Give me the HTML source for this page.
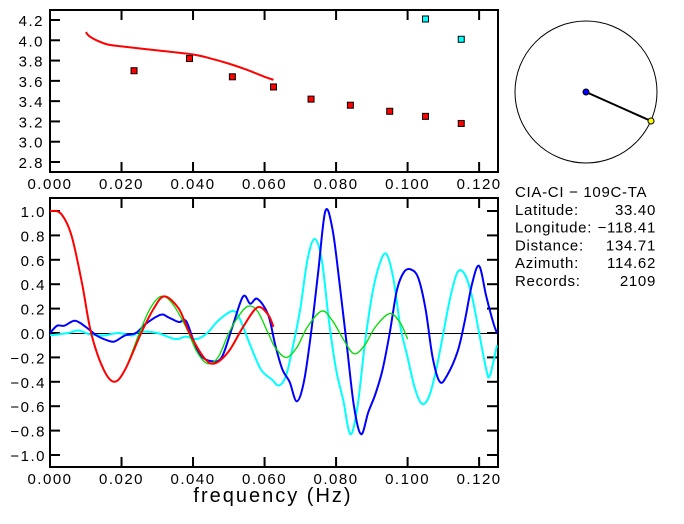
<!DOCTYPE html>
<html><head><meta charset="utf-8"><style>
body{margin:0;background:#fff;width:684px;height:519px;overflow:hidden}
svg text{font-family:"Liberation Sans",sans-serif;fill:#000}
</style></head><body>
<svg id="c" width="684" height="519"></svg>
<script>
const topFreq=[0.0235,0.039,0.051,0.0625,0.073,0.084,0.095,0.105,0.115];
const topVel=[3.70,3.82,3.64,3.54,3.42,3.36,3.30,3.25,3.18];
const cyanFreq=[0.105,0.115];
const cyanVel=[4.21,4.01];
const modelFreq=[0.010,0.011,0.013,0.016,0.020,0.030,0.040,0.045,0.050,0.055,0.060,0.0625];
const modelVel=[4.08,4.04,4.0,3.96,3.94,3.90,3.86,3.82,3.77,3.71,3.64,3.61];
const topTicksY=[4.2,4.0,3.8,3.6,3.4,3.2,3.0,2.8];
const xTicks=[0,0.02,0.04,0.06,0.08,0.1,0.12];
const botTicksY=[1.0,0.8,0.6,0.4,0.2,0.0,-0.2,-0.4,-0.6,-0.8,-1.0];
const redF=[0,0.003,0.006,0.009,0.0115,0.015,0.018,0.021,0.0255,0.029,0.032,0.036,0.039,0.043,0.046,0.050,0.054,0.058,0.061,0.0625];
const redV=[1.0,0.98,0.8,0.4,0.0,-0.3,-0.4,-0.3,0.0,0.2,0.3,0.2,0.0,-0.2,-0.25,-0.15,0.05,0.21,0.15,0.05];
const greenF=[0.009,0.0115,0.015,0.018,0.021,0.025,0.028,0.031,0.034,0.038,0.041,0.044,0.047,0.050,0.053,0.0555,0.058,0.061,0.063,0.066,0.069,0.072,0.076,0.079,0.082,0.085,0.088,0.091,0.095,0.098,0.100];
const greenV=[0.4,0.0,-0.3,-0.4,-0.3,0.0,0.2,0.3,0.25,0.05,-0.15,-0.25,-0.2,0.0,0.15,0.22,0.18,0.0,-0.12,-0.2,-0.12,0.05,0.18,0.1,-0.05,-0.17,-0.1,0.05,0.16,0.08,-0.05];
const blueF=[0,0.002,0.004,0.007,0.010,0.013,0.016,0.018,0.021,0.024,0.027,0.031,0.033,0.036,0.038,0.040,0.042,0.045,0.048,0.051,0.054,0.056,0.058,0.061,0.063,0.065,0.067,0.069,0.071,0.073,0.075,0.077,0.079,0.081,0.083,0.085,0.087,0.089,0.091,0.093,0.095,0.097,0.099,0.101,0.103,0.105,0.107,0.109,0.111,0.114,0.116,0.118,0.120,0.122,0.124,0.125];
const blueV=[0,0.06,0.06,0.1,0.05,-0.02,-0.06,-0.07,-0.02,0.0,0.08,0.15,0.13,0.09,0.1,-0.05,-0.18,-0.23,-0.2,0.05,0.3,0.24,0.28,0.15,-0.1,-0.3,-0.4,-0.56,-0.4,0.0,0.5,1.0,0.85,0.4,-0.1,-0.6,-0.83,-0.65,-0.5,-0.3,0.0,0.35,0.5,0.52,0.45,0.2,-0.2,-0.4,-0.35,-0.15,0.1,0.4,0.55,0.3,0.08,0.0];
const cyanLF=[0,0.005,0.008,0.011,0.015,0.019,0.023,0.025,0.030,0.035,0.038,0.041,0.044,0.047,0.051,0.053,0.056,0.059,0.062,0.064,0.066,0.068,0.070,0.072,0.074,0.076,0.078,0.080,0.082,0.084,0.086,0.088,0.090,0.092,0.094,0.096,0.098,0.100,0.102,0.104,0.106,0.108,0.110,0.112,0.114,0.116,0.118,0.120,0.122,0.123,0.125];
const cyanLV=[-0.02,0.0,0.02,-0.01,-0.02,0.0,-0.02,0.01,0.0,-0.05,-0.03,-0.05,0.0,0.1,0.18,0.12,-0.1,-0.3,-0.38,-0.43,-0.35,-0.1,0.2,0.6,0.77,0.6,0.1,-0.3,-0.55,-0.83,-0.6,-0.1,0.3,0.55,0.65,0.45,0.05,-0.2,-0.45,-0.58,-0.52,-0.3,0.0,0.3,0.5,0.48,0.3,0.0,-0.3,-0.35,-0.1];

const NS='http://www.w3.org/2000/svg';
const svg=document.getElementById('c');
function mk(t,a,p){const e=document.createElementNS(NS,t);for(const k in a)e.setAttribute(k,a[k]);(p||svg).appendChild(e);return e;}
const X0=50,X1=497;
const xs=f=>X0+f/0.125*(X1-X0);
const yT=v=>20+(4.2-v)*(142/1.4);
const yB=v=>333-v*122;
function smooth(P){let d='M'+P[0][0]+','+P[0][1];
 for(let i=0;i<P.length-1;i++){const p0=P[i-1]||P[i],p1=P[i],p2=P[i+1],p3=P[i+2]||p2;
  const c1=[p1[0]+(p2[0]-p0[0])/6,p1[1]+(p2[1]-p0[1])/6],c2=[p2[0]-(p3[0]-p1[0])/6,p2[1]-(p3[1]-p1[1])/6];
  d+=' C'+c1+' '+c2+' '+p2;}return d;}
const TS={'font-size':15,'letter-spacing':1.5};

let e=mk('rect',{x:50,y:10,width:448,height:162,fill:'none',stroke:'#000','stroke-width':2});

e=mk('rect',{x:50,y:198,width:448,height:269,fill:'none',stroke:'#000','stroke-width':2});


topTicksY.forEach(v=>{const y=yT(v);
 mk('line',{x1:50,x2:60,y1:y,y2:y,stroke:'#000','stroke-width':2});
 e=mk('text',Object.assign({x:44,y:y+6,'text-anchor':'end'},TS));e.textContent=v.toFixed(1);
 });
botTicksY.forEach(v=>{const y=yB(v);
 mk('line',{x1:50,x2:60,y1:y,y2:y,stroke:'#000','stroke-width':2});
 mk('line',{x1:487,x2:497,y1:y,y2:y,stroke:'#000','stroke-width':2});
 e=mk('text',Object.assign({x:46,y:y+6,'text-anchor':'end'},TS));e.textContent=(v<0?'\u2212':'')+Math.abs(v).toFixed(1);
 });
xTicks.forEach(f=>{const x=xs(f);
 mk('line',{x1:x,x2:x,y1:10,y2:20,stroke:'#000','stroke-width':2});
 mk('line',{x1:x,x2:x,y1:162,y2:172,stroke:'#000','stroke-width':2});
 mk('line',{x1:x,x2:x,y1:198,y2:208,stroke:'#000','stroke-width':2});
 mk('line',{x1:x,x2:x,y1:457,y2:467,stroke:'#000','stroke-width':2});
 e=mk('text',Object.assign({x:x,y:189,'text-anchor':'middle'},TS));e.textContent=f.toFixed(3);
 
 e=mk('text',Object.assign({x:x,y:484,'text-anchor':'middle'},TS));e.textContent=f.toFixed(3);
 });
e=mk('text',{x:273,y:502,'text-anchor':'middle','font-size':20,'letter-spacing':2});e.textContent='frequency (Hz)';


e=mk('path',{d:smooth(modelFreq.map((f,i)=>[xs(f),yT(modelVel[i])])),fill:'none',stroke:'#f00','stroke-width':2});

topFreq.forEach((f,i)=>{e=mk('rect',{x:xs(f)-3,y:yT(topVel[i])-3,width:6,height:6,fill:'#f00',stroke:'#000','stroke-width':1});
 });
cyanFreq.forEach((f,i)=>{e=mk('rect',{x:xs(f)-3,y:yT(cyanVel[i])-3,width:6,height:6,fill:'#0ff',stroke:'#000','stroke-width':1});
 });

e=mk('line',{x1:50,x2:497,y1:yB(0)+0.5,y2:yB(0)+0.5,stroke:'#000','stroke-width':1});

function line(F,V,col,w,name){e=mk('path',{d:smooth(F.map((f,i)=>[xs(f),yB(V[i])])),fill:'none',stroke:col,'stroke-width':w,'stroke-linejoin':'round'});
 }
line(cyanLF,cyanLV,'#0ff',2,'cyan-series');
line(blueF,blueV,'#00f',2,'blue-series');
line(greenF,greenV,'#0d0',1.3,'green-series');
line(redF,redV,'#f00',2,'red-series');

e=mk('circle',{cx:586,cy:92,r:71,fill:'none',stroke:'#000','stroke-width':1});

e=mk('line',{x1:586,y1:92,x2:651,y2:121,stroke:'#000','stroke-width':2});

e=mk('circle',{cx:586,cy:92,r:3,fill:'#00f',stroke:'#000'});

e=mk('circle',{cx:651,cy:121,r:3,fill:'#ff0',stroke:'#000'});


const info=[['CIA-CI  \u2212  109C-TA',''],['Latitude:','33.40'],['Longitude:','\u2212118.41'],['Distance:','134.71'],['Azimuth:','114.62'],['Records:','2109']];
info.forEach((r,i)=>{const y=197+i*17.8;
 e=mk('text',Object.assign({x:515,y:y},TS,{'letter-spacing':0.7}));e.textContent=r[0];
 
 if(r[1]){e=mk('text',Object.assign({x:656,y:y,'text-anchor':'end'},TS,{'letter-spacing':0.7}));e.textContent=r[1];
 }});
</script>
</body></html>
